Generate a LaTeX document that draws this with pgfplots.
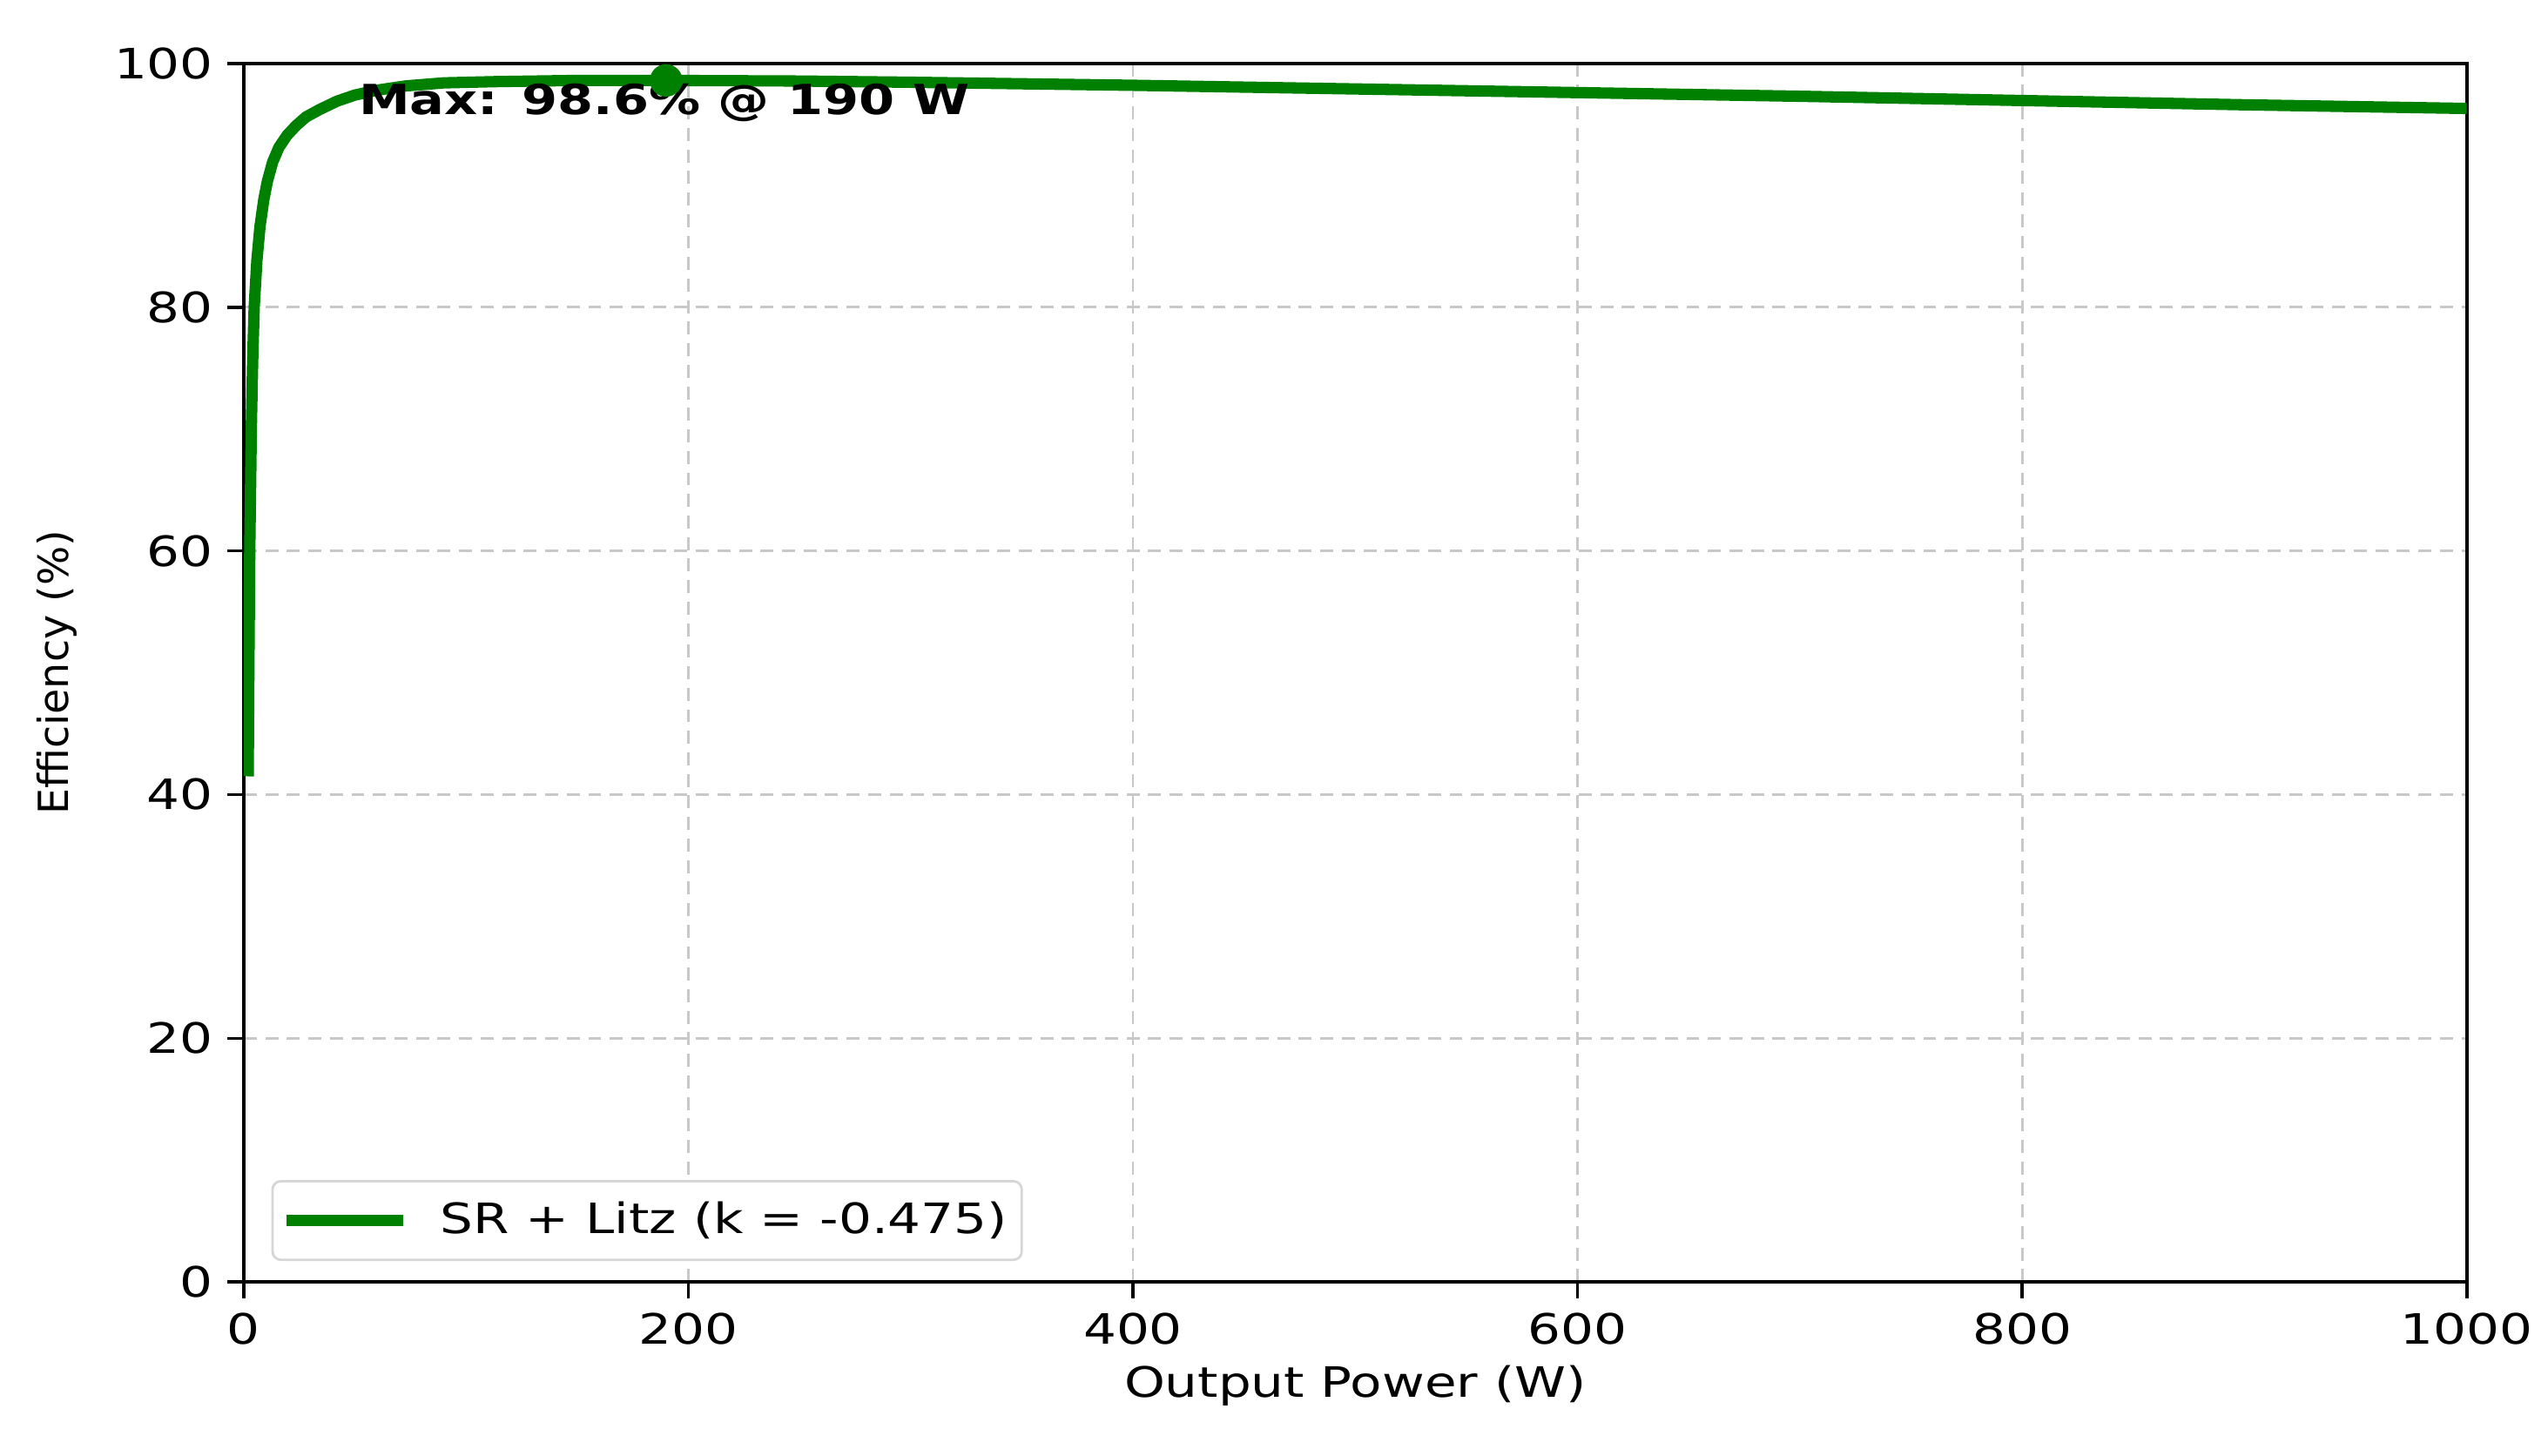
\documentclass[border=0pt]{standalone}
\usepackage{fontspec}
\setmainfont{DejaVu Sans}[FakeStretch=1.24]
\newfontfamily\plainfont{DejaVu Sans}
\usepackage{pgfplots}
\pgfplotsset{compat=1.18}
\usetikzlibrary{calc}
\definecolor{mplgreen}{HTML}{008000}
\definecolor{gridgray}{HTML}{C8C8C8}
\definecolor{legframe}{HTML}{D6D6D6}

\begin{document}
\begin{tikzpicture}
\begin{axis}[
  scale only axis, width=547.2pt, height=300pt,
  xmin=0, xmax=1000, ymin=0, ymax=100,
  xtick={0,200,...,1000}, ytick={0,20,...,100},
  tick align=outside, major tick length=4pt,
  xtick pos=bottom, ytick pos=left,
  axis line style={line width=0.8pt},
  tick style={line width=0.8pt, black},
  grid=major,
  major grid style={gridgray, line width=0.6pt, dash pattern=on 3.2pt off 2.1pt},
  /pgf/number format/assume math mode=true,
  /pgf/number format/1000 sep={},
  tick label style={font=\fontsize{10.3}{12}\selectfont},
  xlabel={Output Power (W)}, ylabel={Efficiency (\%)},
  label style={font=\fontsize{10.3}{12}\selectfont},
  xlabel style={at={(axis description cs:0.5,0)}, anchor=center, yshift=-25.6pt},
  ylabel style={at={(axis description cs:-0.0841,0.5)}, anchor=center, font=\plainfont\fontsize{10.2}{12}\selectfont},
  legend style={at={(0,0)}, anchor=south west, xshift=6.8pt, yshift=5.2pt,
    draw=legframe, line width=0.6pt, rounded corners=2pt, fill=white,
    inner xsep=2pt, inner ysep=3.5pt,
    font=\fontsize{10.3}{12}\selectfont,
    nodes={inner sep=1.5pt}},
  legend cell align=left,
  legend image code/.code={\draw[#1] (0pt,0pt) -- (28.8pt,0pt); \path (35pt,0pt);},
]
\addplot[mplgreen, line width=2.8pt, line join=round] coordinates {
  (2.0,41.5) (2.3,50) (2.7,60) (3.4,70) (4.0,75.5) (4.7,80) (5.9,83.8)
  (7.3,86.6) (9.0,88.8) (10.6,90.3) (13.0,91.9) (15.8,93.1) (19.5,94.1)
  (23.6,94.9) (28,95.6) (34,96.2) (42,96.9) (50,97.4) (60,97.8) (73,98.15)
  (90,98.4) (113,98.5) (150,98.6) (190,98.6) (250,98.55) (300,98.45)
  (400,98.2) (500,97.9) (600,97.6) (700,97.3) (800,96.95) (900,96.6) (1000,96.3)
};
\addlegendentry{SR + Litz (k = -0.475)}
\addplot[only marks, mark=*, mark size=3.8pt, mplgreen, forget plot] coordinates {(190,98.6)};
\node[anchor=west, inner sep=0pt, font=\bfseries\fontsize{10.2}{12}\selectfont] at (axis cs:51.4,96.8) {Max: 98.6\% @ 190 W};
\end{axis}
\pgfresetboundingbox
\path[use as bounding box] ($(current axis.south west)+(-60pt,-42.8pt)$) rectangle ($(current axis.north east)+(20pt,15.6pt)$);
\end{tikzpicture}
\end{document}
